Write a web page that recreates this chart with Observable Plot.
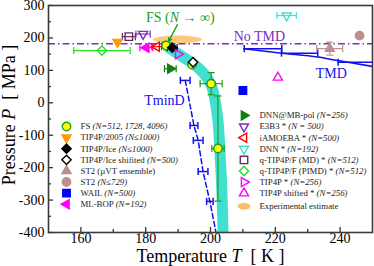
<!DOCTYPE html>
<html><head><meta charset="utf-8">
<script src="https://cdn.jsdelivr.net/npm/d3@7"></script>
<script src="https://cdn.jsdelivr.net/npm/@observablehq/plot@0.6"></script>
<style>
html,body{margin:0;padding:0;background:#fff;}
</style></head>
<body><div id="chart"></div>
<script>
// ---------------- data (T in K, P in MPa) ----------------
const fsPoints        = [{T:186.3,P:177,dT:1.2,dP:10},{T:194.3,P:118},{T:200.2,P:59,dT:3.4,dP:34},{T:202.3,P:-141,dT:1.9,dP:162}];
const tip4p2005       = [{T:171.3,P:187}];
const tip4pIce        = [{T:188.2,P:170,dT:1.5}];
const tip4pIceShifted = [{T:194.6,P:125}];
const st2Muvt         = [{T:236.8,P:167,dT:4,dP:20}];
const st2             = [{T:246,P:207}];
const wail            = [{T:210,P:38}];
const mlBop           = [{T:180.2,P:170,dT:2}];
const dnnMbPol        = [{T:187.6,P:105,dT:1.8}];
const e3b3            = [{T:179.2,P:212,dT:2.2}];
const iamoeba         = [{T:183.4,P:173,dT:1.5}];
const dnn             = [{T:223.5,P:269,dT:3}];
const qTip4pfMD       = [{T:174.8,P:204,dT:2}];
const qTip4pfPIMD     = [{T:166.5,P:161,dT:8.7}];
const tip4p           = [{T:190,P:150}];
const tip4pShifted    = [{T:220.8,P:78}];
const experimental    = [{T:189.8,P:195}];
const widomBand       = [{T:186.8,P:172},{T:191.2,P:143},{T:194.6,P:121},{T:197.7,P:93},{T:200.2,P:55},{T:201.4,P:7},{T:202.3,P:-55},{T:202.9,P:-147},{T:203.5,P:-270},{T:203.9,P:-410}];
const tmdCurve        = [{T:210.3,P:167},{T:222,P:153},{T:233.1,P:141},{T:238.9,P:131},{T:250,P:112}];
const tmdPoints       = [{T:216.2,P:167,dT:5.8},{T:227.5,P:153,dT:5.6},{T:245,P:125,dT:5.6}];
const tminD           = [{T:192.2,P:69,dT:1.5},{T:194.9,P:-70,dT:1.2},{T:196.2,P:-116,dT:1.5},{T:197.7,P:-212,dT:1.5},{T:199.8,P:-304,dT:1},{T:201.7,P:-400}];
const noTmdP          = [182];
const fsArrow         = [{T1:189.8,P1:241,T2:187.1,P2:190}];
const annotations     = [
  {T:190.7,P:264,text:"FS (<i>N</i> → ∞)",color:"#1f9a1f"},
  {T:215.1,P:205,text:"No TMD",color:"#7b2fbe"},
  {T:237.3,P:89,text:"TMD",color:"#1010ee"},
  {T:185.8,P:7,text:"TminD",color:"#1010ee"}
];
const xMajor = [160,180,200,220,240];
const xMinor = [170,190,210,230];
const yMajor = [-400,-300,-200,-100,0,100,200,300];
const yMinor = [-350,-250,-150,-50,50,150,250];

// ---------------- symbols ----------------
function tri(angle){
  return {draw(ctx,size){
    const R=Math.sqrt(size/Math.PI)*1.25;
    for(let k=0;k<3;k++){const a=angle+k*2*Math.PI/3;const x=R*Math.cos(a),y=R*Math.sin(a);k?ctx.lineTo(x,y):ctx.moveTo(x,y);}
    ctx.closePath();
  }};
}
const triUp=tri(-Math.PI/2),triDown=tri(Math.PI/2),triLeft=tri(Math.PI),triRight=tri(0);
const vcap={draw(c,s){const h=Math.sqrt(s);c.moveTo(0,-h);c.lineTo(0,h);}};
const hcap={draw(c,s){const h=Math.sqrt(s);c.moveTo(-h,0);c.lineTo(h,0);}};
function ellipse(rx,ry){const k=0.5523;return {draw(c){
  c.moveTo(rx,0);c.bezierCurveTo(rx,ry*k,rx*k,ry,0,ry);c.bezierCurveTo(-rx*k,ry,-rx,ry*k,-rx,0);
  c.bezierCurveTo(-rx,-ry*k,-rx*k,-ry,0,-ry);c.bezierCurveTo(rx*k,-ry,rx,-ry*k,rx,0);c.closePath();}};}

const BLUE="#1010ee";
const series=[
 {data:fsPoints,symbol:"circle",fill:"#ffff00",stroke:"#1f9a1f",label:"FS <i>(N=512, 1728, 4096)</i>",col:0,row:0},
 {data:tip4p2005,symbol:triDown,fill:"#ff9a00",stroke:"#ff9a00",label:"TIP4P/2005 <i>(N≤1000)</i>",col:0,row:1},
 {data:tip4pIce,symbol:"diamond2",fill:"#000",stroke:"#000",label:"TIP4P/Ice <i>(N≤1000)</i>",col:0,row:2},
 {data:st2Muvt,symbol:triUp,fill:"#bc8f8f",stroke:"#bc8f8f",label:"ST2 (µVT ensemble)",col:0,row:4},
 {data:st2,symbol:"circle",fill:"#bc8f8f",stroke:"#bc8f8f",label:"ST2 <i>(N≤729)</i>",col:0,row:5},
 {data:wail,symbol:"square",fill:"#0000ff",stroke:"#0000ff",label:"WAIL <i>(N=500)</i>",col:0,row:6},
 {data:mlBop,symbol:triLeft,fill:"#ff00ff",stroke:"#ff00ff",label:"ML-BOP <i>(N=192)</i>",col:0,row:7},
 {data:dnnMbPol,symbol:triRight,fill:"#0f7f0f",stroke:"#0f7f0f",label:"DNN@MB-pol <i>(N=256)</i>",col:1,row:0},
 {data:e3b3,symbol:triDown,fill:"none",stroke:"#7b2fbe",label:"E3B3 * <i>(N = 500)</i>",col:1,row:1},
 {data:iamoeba,symbol:triLeft,fill:"none",stroke:"#ff0000",label:"iAMOEBA * <i>(N=500)</i>",col:1,row:2},
 {data:dnn,symbol:triDown,fill:"none",stroke:"#40e0d0",label:"DNN * <i>(N=192)</i>",col:1,row:3},
 {data:qTip4pfMD,symbol:"square",fill:"none",stroke:"#6e2a5e",label:"q-TIP4P/F (MD) * <i>(N=512)</i>",col:1,row:4},
 {data:qTip4pfPIMD,symbol:"diamond2",fill:"none",stroke:"#22e022",label:"q-TIP4P/F (PIMD) * <i>(N=512)</i>",col:1,row:5},
 {data:tip4p,symbol:triRight,fill:"none",stroke:"#ff00ff",label:"TIP4P * <i>(N=256)</i>",col:1,row:6},
 {data:tip4pShifted,symbol:triUp,fill:"none",stroke:"#ff00ff",label:"TIP4P shifted * <i>(N=256)</i>",col:1,row:7},
 {data:tip4pIceShifted,symbol:"diamond2",fill:"#fff",stroke:"#000",label:"TIP4P/Ice shifited <i>(N=500)</i>",col:0,row:3}
];

function errorMarks(data,color,sw=1.2){
  const out=[];const hx=data.filter(d=>d.dT),vy=data.filter(d=>d.dP);
  if(hx.length){
    out.push(Plot.ruleY(hx,{y:"P",x1:d=>d.T-d.dT,x2:d=>d.T+d.dT,stroke:color,strokeWidth:sw,clip:true}));
    out.push(Plot.dot(hx,{x:d=>d.T-d.dT,y:"P",symbol:vcap,r:2,fill:"none",stroke:color,strokeWidth:sw,clip:true}));
    out.push(Plot.dot(hx,{x:d=>d.T+d.dT,y:"P",symbol:vcap,r:2,fill:"none",stroke:color,strokeWidth:sw,clip:true}));
  }
  if(vy.length){
    out.push(Plot.ruleX(vy,{x:"T",y1:d=>d.P-d.dP,y2:d=>d.P+d.dP,stroke:color,strokeWidth:sw,clip:true}));
    out.push(Plot.dot(vy,{x:"T",y:d=>d.P-d.dP,symbol:hcap,r:2,fill:"none",stroke:color,strokeWidth:sw,clip:true}));
    out.push(Plot.dot(vy,{x:"T",y:d=>d.P+d.dP,symbol:hcap,r:2,fill:"none",stroke:color,strokeWidth:sw,clip:true}));
  }
  return out;
}

const marks=[];
marks.push(Plot.line(widomBand,{x:"T",y:"P",stroke:"#40e0d0",strokeWidth:11,curve:"catmull-rom",clip:true}));
marks.push(Plot.dot(experimental,{x:"T",y:"P",symbol:ellipse(24.5,4),r:3,fill:"#fbbf66",fillOpacity:0.85,stroke:"none"}));
marks.push(Plot.ruleY(noTmdP,{y:d=>d,stroke:"#7b2fbe",strokeWidth:1.3,strokeDasharray:"7,3,1.5,3"}));
marks.push(Plot.line(tmdCurve,{x:"T",y:"P",stroke:BLUE,strokeWidth:1.5,curve:"monotone-x",clip:true}));
marks.push(...errorMarks(tmdPoints,BLUE,1.5));
marks.push(Plot.line(tminD,{x:"T",y:"P",stroke:BLUE,strokeWidth:1.5,strokeDasharray:"5,3",clip:true}));
marks.push(...errorMarks(tminD,BLUE,1.5));
marks.push(Plot.arrow(fsArrow,{x1:"T1",y1:"P1",x2:"T2",y2:"P2",stroke:"#1f9a1f",strokeWidth:1.3,headLength:4}));
for(const s of series){
  marks.push(...errorMarks(s.data,s.stroke,1.2));
}
for(const s of series){
  marks.push(Plot.dot(s.data,{x:"T",y:"P",symbol:s.symbol,r:4.2,fill:s.fill,stroke:s.stroke,strokeWidth:1.4}));
}
marks.push(Plot.text(annotations,{x:"T",y:"P",text:"text",fill:"color",fontSize:14,textAnchor:"middle"}));

// legend (layout only)
const LFS=8.8;
for(const s of series){
  const dx=s.col===0?18:195.5, dy=(s.col===0?121:110)+11.1*s.row;
  marks.push(Plot.dot([0],{frameAnchor:"top-left",dx,dy,symbol:s.symbol,r:4.2,fill:s.fill,stroke:s.stroke,strokeWidth:1.4}));
  marks.push(Plot.text([s.label],{frameAnchor:"top-left",dx:dx+(s.col===0?14:15.5),dy,text:d=>d,textAnchor:"start",lineAnchor:"middle",fontSize:LFS,fill:"#222"}));
}
marks.push(Plot.dot([0],{frameAnchor:"top-left",dx:195.5,dy:110+11.1*8+2,symbol:ellipse(6,3),r:3,fill:"#fbbf66",stroke:"#f0a030",strokeWidth:0.8,strokeDasharray:"1,1"}));
marks.push(Plot.text(["Experimental estimate"],{frameAnchor:"top-left",dx:211,dy:110+11.1*8+2,text:d=>d,textAnchor:"start",lineAnchor:"middle",fontSize:LFS,fill:"#222"}));

// axes
marks.push(Plot.tickX(xMajor,{x:d=>d,insetTop:222,stroke:"#333",strokeWidth:1.3}));
marks.push(Plot.tickX(xMinor,{x:d=>d,insetTop:224,stroke:"#333",strokeWidth:1.3}));
marks.push(Plot.tickY(yMajor,{y:d=>d,insetRight:319,stroke:"#333",strokeWidth:1.3}));
marks.push(Plot.tickY(yMinor,{y:d=>d,insetRight:321,stroke:"#333",strokeWidth:1.3}));
marks.push(Plot.axisX({ticks:xMajor,tickSize:0,tickPadding:1,fontSize:14,tickFormat:d=>String(d),label:null}));
marks.push(Plot.axisY({ticks:yMajor,tickSize:0,tickPadding:4,fontSize:14,tickFormat:d=>String(d),label:null}));
marks.push(Plot.text(["Temperature <i>T</i>  [ K ]"],{frameAnchor:"bottom",dy:24,text:d=>d,textAnchor:"middle",lineAnchor:"middle",fontSize:18}));
marks.push(Plot.text(["Pressure <i>P</i>  [ MPa ]"],{frameAnchor:"left",dx:-39,dy:-4,text:d=>d,rotate:-90,textAnchor:"middle",lineAnchor:"middle",fontSize:18}));
marks.push(Plot.frame({stroke:"#3a3a3a",strokeWidth:1.6}));

const svg=Plot.plot({
  width:374,height:266,marginLeft:48,marginRight:2,marginTop:5,marginBottom:34,
  x:{domain:[150,250]},y:{domain:[-400,300]},
  style:{fontFamily:"'Liberation Serif','Times New Roman',serif",fontSize:"14px",background:"white",overflow:"visible"},
  marks
});
svg.querySelectorAll("text").forEach(t=>{
  if(t.textContent.includes("<i>")){
    t.innerHTML=t.textContent.replace(/<i>/g,'<tspan font-style="italic">').replace(/<\/i>/g,'</tspan>');
  }
});
document.getElementById("chart").append(svg);
</script>
</body></html>
